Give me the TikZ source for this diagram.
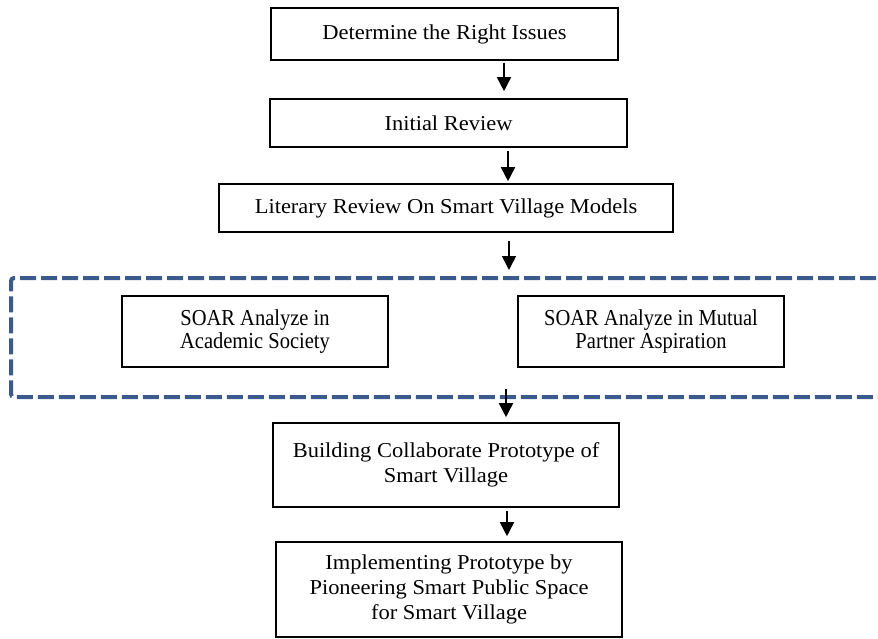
\documentclass[tikz,border=0pt]{standalone}
\usepackage{fontspec}
\setmainfont{Liberation Serif}
\newfontfamily\boxfont[FakeStretch=1.06]{Liberation Serif}
\newfontfamily\soarfont[FakeStretch=0.9]{Liberation Serif}
\usetikzlibrary{arrows.meta}
\definecolor{grpblue}{RGB}{59,91,140}
\tikzset{
  flowbox/.style={draw=black, line width=1.6pt, inner sep=0pt, align=center,
    font=\boxfont\fontsize{21.2}{25}\selectfont},
  soarbox/.style={draw=black, line width=1.6pt, inner sep=0pt, align=center,
    minimum width=266pt, minimum height=71pt,
    font=\soarfont\fontsize{22.8}{22.5}\selectfont},
  grpbox/.style={draw=grpblue, line width=4pt, dash pattern=on 16pt off 5pt, rounded corners=3pt},
  arr/.style={line width=1.6pt, -{Triangle[width=14pt,length=14pt]}}
}
\begin{document}
\begin{tikzpicture}[x=1pt,y=-1pt]
\useasboundingbox (0,0) rectangle (878,638);
\node[flowbox, minimum width=347pt, minimum height=52pt] (b1) at (444.5,34) {Determine the Right Issues};
\node[flowbox, minimum width=357pt, minimum height=48pt] (b2) at (448.5,123) {Initial Review};
\node[flowbox, minimum width=454pt, minimum height=48pt] (b3) at (446,208) {Literary Review On Smart Village Models};
\node[grpbox, minimum width=889pt, minimum height=119pt] (grp) at (455.5,337.5) {};
\node[soarbox] (s1) at (255,331.5) {SOAR Analyze in\\Academic Society};
\node[soarbox] (s2) at (651,331.5) {SOAR Analyze in Mutual\\Partner Aspiration};
\node[flowbox, minimum width=346pt, minimum height=84pt] (b5) at (446,465) {Building Collaborate Prototype of\\Smart Village};
\node[flowbox, minimum width=346pt, minimum height=95pt] (b6) at (449,589.5) {Implementing Prototype by\\Pioneering Smart Public Space\\for Smart Village};
\draw[arr] ([xshift=59.5pt,yshift=-2pt]b1.south) -- ([xshift=55.5pt,yshift=7pt]b2.north);
\draw[arr] ([xshift=59.5pt,yshift=-3pt]b2.south) -- ([xshift=62pt,yshift=2pt]b3.north);
\draw[arr] ([xshift=63pt,yshift=-8pt]b3.south) -- ([xshift=53.5pt,yshift=6pt]grp.north);
\draw[arr] ([xshift=50.5pt,yshift=10pt]grp.south) -- ([xshift=60pt,yshift=5pt]b5.north);
\draw[arr] ([xshift=61pt,yshift=-3pt]b5.south) -- ([xshift=58pt,yshift=5pt]b6.north);
\end{tikzpicture}
\end{document}
